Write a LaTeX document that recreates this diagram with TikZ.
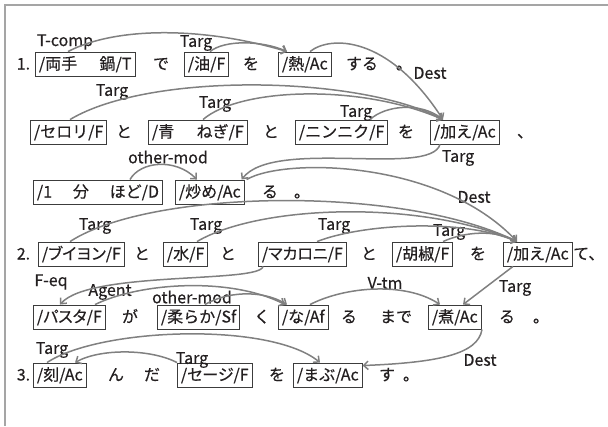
\documentclass[tikz,border=0pt]{standalone}
\usepackage{fontspec}
\setmainfont{Noto Sans CJK JP}[FakeBold=0.4]
\usetikzlibrary{arrows.meta,calc}
\definecolor{arcc}{RGB}{128,128,128}
\definecolor{boxc}{RGB}{60,60,60}
\definecolor{txt}{RGB}{35,31,32}
\definecolor{framec}{RGB}{165,165,165}
\newcommand{\pk}{\addfontfeature{RawFeature=+palt}}
\begin{document}
\begin{tikzpicture}[x=1pt,y=-1pt,
  w/.style={font=\fontsize{16}{19}\selectfont, text=txt, text height=13.5pt, text depth=2.5pt, inner sep=0pt},
  bx/.style={w, draw=boxc, line width=0.9pt, inner xsep=3.5pt, inner ysep=4pt, anchor=west},
  lab/.style={font=\fontsize{16}{19}\selectfont, text=txt, inner sep=0pt},
  arc/.style={draw=arcc, line width=1.5pt, -{Straight Barb[length=4.5pt,width=8.5pt]}}]
\useasboundingbox (0,0) rectangle (608,426);
\draw[framec, line width=1.5pt] (608,5) -- (5,5) -- (5,426);

% Row 1
\node[w] (n1) at (23.5,64) {1.};
\node[bx] (r1a) at (35,64) {/両手\hspace{1.4em}鍋/T};
\node[w] (r1de) at (161,64) {で};
\node[bx] (r1b) at (184,64) {/油/F};
\node[w] (r1wo) at (251,64) {を};
\node[bx] (r1c) at (278,64) {/熱/Ac};
\node[w] (r1su) at (362,64) {する};
\node[w] (r1p) at (404,64) {。};
% Row 2
\node[bx] (r2a) at (30,132) {/セロリ/F};
\node[w] (r2to1) at (124,132) {と};
\node[bx] (r2b) at (148,132) {/青\hspace{1.4em}ねぎ/F};
\node[w] (r2to2) at (271,132) {と};
\node[bx] (r2c) at (295,132) {/ニンニク/F};
\node[w] (r2wo) at (406,132) {を};
\node[bx] (r2d) at (430,132) {/加え/Ac};
\node[w] (r2ten) at (525,132) {、};
% Row 3
\node[bx] (r3a) at (33,192) {/1\hspace{1.3em}分\hspace{1.3em}ほど/D};
\node[bx] (r3b) at (175,192) {/炒め/Ac};
\node[w] (r3ru) at (270,192) {る};
\node[w] (r3p) at (302,192) {。};
% Row 4
\node[w] (n2) at (23.5,254) {2.};
\node[bx] (r4a) at (38,254) {\pk/ブイヨン/F};
\node[w] (r4to1) at (142,254) {と};
\node[bx] (r4b) at (163,254) {/水/F};
\node[w] (r4to2) at (228,254) {と};
\node[bx] (r4c) at (258,254) {\pk/マカロニ/F};
\node[w] (r4to3) at (369,254) {と};
\node[bx] (r4d) at (392,254) {/胡椒/F};
\node[w] (r4wo) at (478,254) {を};
\node[bx] (r4e) at (503,254) {/加え/Ac};
\node[w,anchor=west] (r4te) at (573,254) {て、};
% Row 5
\node[bx] (r5a) at (33,317) {\pk/パスタ/F};
\node[w] (r5ga) at (130,317) {が};
\node[bx] (r5b) at (157,317) {/柔らか/Sf};
\node[w] (r5ku) at (262,317) {く};
\node[bx] (r5c) at (278,317) {/な/Af};
\node[w] (r5ru) at (349,317) {る};
\node[w] (r5made) at (396,317) {まで};
\node[bx] (r5d) at (428,317) {/煮/Ac};
\node[w] (r5ru2) at (507,317) {る};
\node[w] (r5p) at (541,317) {。};
% Row 6
\node[w] (n3) at (23.5,375) {3.};
\node[bx] (r6a) at (33,375) {/刻/Ac};
\node[w] (r6n) at (116,375) {ん};
\node[w] (r6da) at (152,375) {だ};
\node[bx] (r6b) at (177,375) {\pk/セージ/F};
\node[w] (r6wo) at (277,375) {を};
\node[bx] (r6c) at (293,375) {/まぶ/Ac};
\node[w] (r6su) at (387,375) {す};
\node[w] (r6p) at (411,375) {。};

% Labels
\node[lab] (l1) at (65,42) {T-comp};
\node[lab] (l2) at (196,43) {Targ};
\node[lab] (l3) at (430,73) {Dest};
\node[lab] (l4) at (112,92) {Targ};
\node[lab] (l5) at (215,104) {Targ};
\node[lab] (l6) at (356,113) {Targ};
\node[lab] (l7) at (458,158) {Targ};
\node[lab] (l8) at (168,157) {other-mod};
\node[lab] (l9) at (474,197) {Dest};
\node[lab] (l10) at (95,226) {Targ};
\node[lab] (l11) at (206,226) {Targ};
\node[lab] (l12) at (334,226) {Targ};
\node[lab] (l13) at (449,232) {Targ};
\node[lab] (l14) at (51,282) {F-eq};
\node[lab] (l15) at (110,292) {Agent};
\node[lab] (l16) at (192,297) {other-mod};
\node[lab] (l17) at (385,283) {V-tm};
\node[lab] (l18) at (515,288) {Targ};
\node[lab] (l19) at (480,360) {Dest};
\node[lab] (l20) at (52,350) {Targ};
\node[lab] (l21) at (192,360) {Targ};

% Connectors
\draw[arc] ($(r1a.north west)+(33,0)$) .. controls +(50,-26) and +(-80,-24) .. ($(r1c.north west)+(9,0)$);
\draw[arc] ($(r1b.north west)+(26,0)$) .. controls +(15,-12) and +(-25,-11) .. ($(r1c.north west)+(9,0)$);
\draw[arc] ($(r1c.north west)+(32,0)$) .. controls +(20,-16) and +(-55,-85) .. ($(r2d.north west)+(13,0)$);
\draw[arc] ($(r2a.north west)+(40,0)$) .. controls +(80,-48) and +(-83,-44) .. ($(r2d.north west)+(13,0)$);
\draw[arc] ($(r2b.north west)+(55,0)$) .. controls +(37,-32) and +(-83,-36) .. ($(r2d.north west)+(13,0)$);
\draw[arc] ($(r2c.north west)+(75,0)$) .. controls +(15,-14) and +(-23,-18) .. ($(r2d.north west)+(13,0)$);
\draw[arc] ($(r2d.south west)+(10,0)$) .. controls +(-10,33) and +(32,-42) .. ($(r3b.north east)+(-3,0)$);
\draw[arc] ($(r3a.north west)+(97,0)$) .. controls +(10,-18) and +(-22,-22) .. ($(r3b.north west)+(22,0)$);
\draw[arc] ($(r3b.north east)+(2,0)$) .. controls +(37,-22) and +(-77,-82) .. ($(r4e.north west)+(14,0)$);
\draw[arc] ($(r4a.north west)+(32,0)$) .. controls +(80,-52) and +(-117,-57) .. ($(r4e.north west)+(14,0)$);
\draw[arc] ($(r4b.north west)+(34,0)$) .. controls +(63,-37) and +(-97,-42) .. ($(r4e.north west)+(14,0)$);
\draw[arc] ($(r4c.north west)+(59,0)$) .. controls +(43,-17) and +(-57,-24) .. ($(r4e.north west)+(14,0)$);
\draw[arc] ($(r4d.north west)+(51,0)$) .. controls +(22,-10) and +(-22,-12) .. ($(r4e.north west)+(14,0)$);
\draw[arc] ($(r4e.south west)+(10,0)$) -- ($(r5d.north west)+(35,0)$);
\draw[arc] ($(r4c.south west)+(5,0)$) .. controls +(-3,17) and +(30,-34) .. ($(r5a.north west)+(27,0)$);
\draw[arc] ($(r5a.north west)+(62,0)$) .. controls +(45,-22) and +(-55,-28) .. ($(r5c.north west)+(7,0)$);
\draw[arc] ($(r5b.north west)+(48,0)$) .. controls +(20,-12) and +(-27,-16) .. ($(r5c.north west)+(9,0)$);
\draw[arc] ($(r5c.north west)+(32,0)$) .. controls +(35,-18) and +(-35,-23) .. ($(r5d.north west)+(12,0)$);
\draw[arc] ($(r5d.south west)+(54,0)$) .. controls +(-4,25) and +(75,-3) .. ($(r6c.north east)+(0,3)$);
\draw[arc] ($(r6a.north west)+(14,0)$) .. controls +(53,-35) and +(-50,-41) .. ($(r6c.north west)+(27,0)$);
\draw[arc] ($(r6b.north west)+(0,0)$) .. controls +(-27,-14) and +(25,-14) .. ($(r6a.north west)+(42,0)$);
\end{tikzpicture}
\end{document}
